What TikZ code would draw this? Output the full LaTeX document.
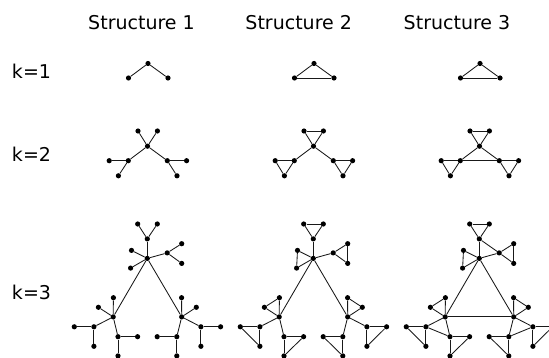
\documentclass[tikz,border=0pt]{standalone}
\usepackage{fontspec}
\setmainfont{DejaVu Sans}
\newcommand\mydot[2]{\node[dot] (s\s-#1) at (#2) {};}
\newcommand\myedges[1]{\foreach \a/\b in {#1} {\draw[lnk] (s\s-\a) -- (s\s-\b);}}
\begin{document}
\begin{tikzpicture}[x=1pt,y=-1pt,
  dot/.style={circle,fill=black,draw=none,inner sep=0pt,minimum size=5.2pt},
  lnk/.style={draw=black!90,line width=0.85pt},
  lbl/.style={font=\fontsize{19}{22}\selectfont,inner sep=0pt}]
\clip (0,0) rectangle (549,358);
\node[lbl,anchor=base] (t1) at (141.5,29.6) {Structure 1};
\node[lbl,anchor=base] (t2) at (298.7,29.6) {Structure 2};
\node[lbl,anchor=base] (t3) at (457,29.6) {Structure 3};
\node[lbl,anchor=base west] (k1) at (11.8,78.6) {k=1};
\node[lbl,anchor=base west] (k2) at (11.8,162) {k=2};
\node[lbl,anchor=base west] (k3) at (11.8,299) {k=3};
\foreach \s/\dx in {1/0,2/166,3/332}{
\begin{scope}[xshift=\dx]
  % k=1
  \mydot{oA}{148,63.5}
  \mydot{oB}{128.5,78}
  \mydot{oC}{168,78}
  \myedges{oA/oB,oA/oC}
  % k=2
  \mydot{c}{147.5,146.2}
  \mydot{l1}{138,131}
  \mydot{l2}{157.4,131}
  \mydot{h1}{128.3,160.7}
  \mydot{h2}{167.3,160.7}
  \mydot{a1}{109.2,160.7}
  \mydot{a2}{118.4,175.8}
  \mydot{b1}{186.6,160.7}
  \mydot{b2}{177,175.8}
  \myedges{c/l1,c/l2,c/h1,c/h2,h1/a1,h1/a2,h2/b1,h2/b2}
  % k=3 top
  \mydot{T}{147.3,258.4}
  \mydot{U}{147.3,238.9}
  \mydot{uA}{137.7,224}
  \mydot{uB}{157.3,224}
  \mydot{R}{167.2,252.9}
  \mydot{rA}{181.7,243.7}
  \mydot{rB}{181.7,263.4}
  \mydot{LA}{131.5,250.4}
  \mydot{LB}{130.6,268.1}
  % k=3 bottom left
  \mydot{P}{113.2,316.9}
  \mydot{pA}{113.4,297.7}
  \mydot{pB}{98.4,307.3}
  \mydot{H}{93.9,326.8}
  \mydot{hA}{74.3,326.8}
  \mydot{hB}{93.9,346.3}
  \mydot{G}{118,336.7}
  \mydot{gA}{137.6,336.7}
  \mydot{gB}{118,355.9}
  % k=3 bottom right
  \mydot{Q}{181.7,316.9}
  \mydot{qA}{181.6,297.7}
  \mydot{qB}{196.3,307.3}
  \mydot{K}{200.9,326.8}
  \mydot{kA}{220.6,326.8}
  \mydot{kB}{200.9,346.3}
  \mydot{J}{176.8,336.7}
  \mydot{jA}{157.2,336.7}
  \mydot{jB}{176.8,355.9}
  \myedges{T/U,U/uA,U/uB,T/R,R/rA,R/rB,T/LA,T/LB,T/P,T/Q,
    P/pA,P/pB,P/H,H/hA,H/hB,P/G,G/gA,G/gB,
    Q/qA,Q/qB,Q/K,K/kA,K/kB,Q/J,J/jA,J/jB}
  \ifnum\s>1
    \myedges{oB/oC,l1/l2,a1/a2,b1/b2,uA/uB,rA/rB,LA/LB,pA/pB,hA/hB,gA/gB,qA/qB,kA/kB,jA/jB}
  \fi
  \ifnum\s>2
    \myedges{h1/h2,U/R,H/G,K/J,P/Q}
  \fi
\end{scope}
}
\end{tikzpicture}
\end{document}
